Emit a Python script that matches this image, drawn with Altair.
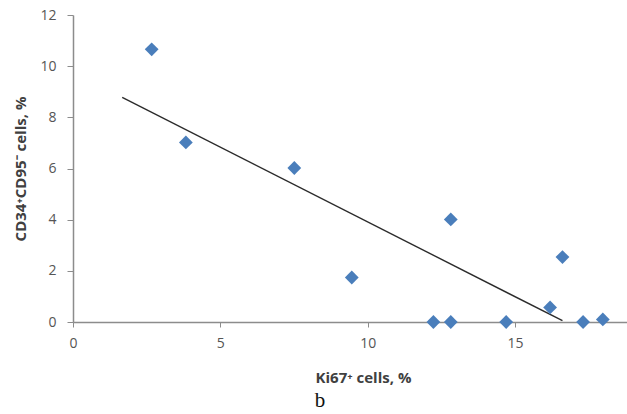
import altair as alt
import pandas as pd

# Scatter points
ki67 = [2.67, 3.83, 7.51, 9.46, 12.82, 16.61, 16.19, 12.23, 12.82, 14.70, 17.31, 17.98]
cd34 = [10.66, 7.02, 6.02, 1.74, 4.01, 2.54, 0.57, 0.0, 0.0, 0.0, 0.0, 0.10]

# Linear trend line end points
trend_x = [1.67, 16.61]
trend_y = [8.78, 0.05]

x_ticks = [0, 5, 10, 15]
y_ticks = [0, 2, 4, 6, 8, 10, 12]

pts = pd.DataFrame({"x": ki67, "y": cd34})
trend = pd.DataFrame({"x": trend_x, "y": trend_y})

FONT = "Open Sans"

xscale = alt.Scale(domain=[0, 18.8], nice=False, zero=False)
yscale = alt.Scale(domain=[0, 12], nice=False)

xaxis = alt.Axis(
    values=x_ticks, grid=False, domainColor="#8c8c8c", domainWidth=1.5,
    tickColor="#8c8c8c", tickSize=5, labelPadding=9, labelFont=FONT,
    labelFontSize=14, labelColor="#555555", title="Ki67⁺ cells, %",
    titleFont=FONT, titleFontSize=15, titleFontWeight="bold", titleColor="#404040",
    titleX=290, titleY=60, titleBaseline="alphabetic", titleAlign="center",
    labelFlush=False,
)
yaxis = alt.Axis(
    values=y_ticks, grid=False, domainColor="#8c8c8c", domainWidth=1.5,
    tickColor="#8c8c8c", tickSize=6, labelPadding=11, labelFont=FONT,
    labelFontSize=14, labelColor="#555555", title="CD34⁺CD95⁻ cells, %",
    titleFont=FONT, titleFontSize=15, titleFontWeight="bold", titleColor="#404040",
    titleX=-48, titleBaseline="alphabetic", labelFlush=False,
)

line = alt.Chart(trend).mark_line(color="#2b2b2b", strokeWidth=1.4, clip=True).encode(
    x=alt.X("x:Q", scale=xscale, axis=xaxis),
    y=alt.Y("y:Q", scale=yscale, axis=yaxis),
)

points = alt.Chart(pts).mark_point(
    shape="diamond", filled=True, color="#4a7ebb", size=190, opacity=1
).encode(
    x=alt.X("x:Q", scale=xscale),
    y=alt.Y("y:Q", scale=yscale),
)

label_b = alt.Chart(pd.DataFrame({"t": ["b"]})).mark_text(
    font="Liberation Serif", fontSize=21, color="#111111", baseline="alphabetic", align="center"
).encode(
    text="t:N", x=alt.value(247), y=alt.value(392)
)

chart = alt.layer(line, points, label_b).properties(
    width=554, height=307,
    padding={"left": 73, "top": 15, "right": 0, "bottom": 92},
    autosize=alt.AutoSizeParams(type="none"),
).configure_view(stroke=None)

chart.save("out.html", embed_options={"renderer": "svg", "actions": False})
